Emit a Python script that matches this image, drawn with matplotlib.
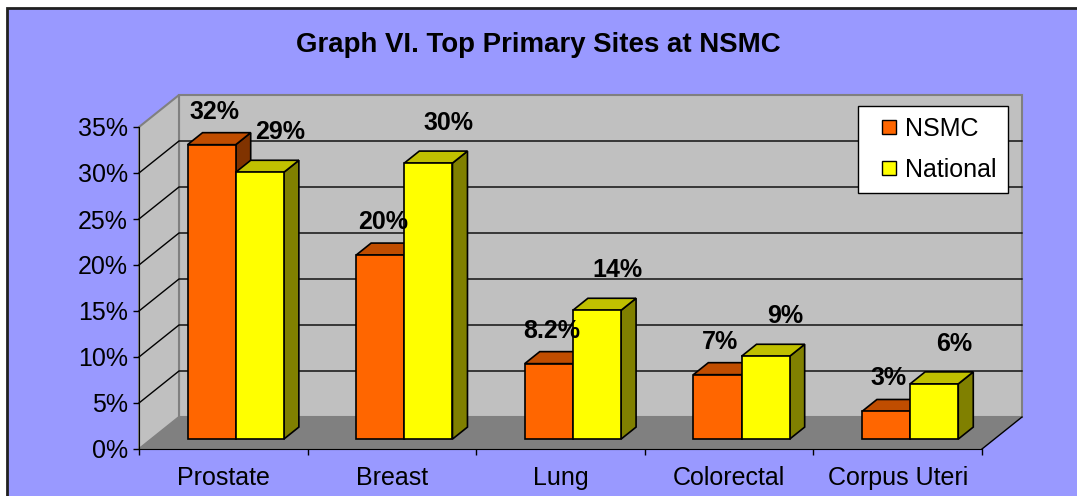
import numpy as np
import matplotlib
matplotlib.use("Agg")
import matplotlib.pyplot as plt
from matplotlib.patches import Polygon, Rectangle, Patch
from matplotlib.legend_handler import HandlerPatch
from matplotlib.ticker import FuncFormatter

plt.rcParams['font.family'] = ['Liberation Sans', 'DejaVu Sans']

# ---- data ----
categories = ['Prostate', 'Breast', 'Lung', 'Colorectal', 'Corpus Uteri']
series_names = ['NSMC', 'National']
nsmc = [32, 20, 8.2, 7, 3]
national = [29, 30, 14, 9, 6]
nsmc_labels = ['32%', '20%', '8.2%', '7%', '3%']
national_labels = ['29%', '30%', '14%', '9%', '6%']
yticks = [0, 5, 10, 15, 20, 25, 30, 35]

# ---- style ----
W, H = 1077, 496
bg = '#9999FF'
wall = '#C0C0C0'
floor = '#808080'
front_cols = ['#FF6600', '#FFFF00']
top_cols = ['#C04D00', '#C0C000']
side_cols = ['#803300', '#808000']

fig = plt.figure(figsize=(W / 100, H / 100), dpi=100)
fig.patch.set_facecolor('white')

# chart area with border (runs off right / bottom like the original)
fig.patches.append(Rectangle((7 / W, -0.1), 1.2, 1 - 8 / H + 0.1,
                             transform=fig.transFigure, facecolor=bg,
                             edgecolor='#202020', lw=2, zorder=-5))

# front plane of the 3d box
x0, x1, y0, y1 = 139, 982, 449, 127
ax = fig.add_axes([x0 / W, 1 - y0 / H, (x1 - x0) / W, (y0 - y1) / H])
ax.set_xlim(0, len(categories))
ax.set_ylim(0, 35)
ax.set_facecolor('none')

# depth offset (40 px right, 32 px up) in data units
DX = 40 / ((x1 - x0) / len(categories))
DY = 32 / ((y0 - y1) / 35)


def proj(x, y, d):
    return (x + d * DX, y + d * DY)


def face(pts, **kw):
    p = Polygon(pts, closed=True, clip_on=False, **kw)
    ax.add_patch(p)
    return p


n = len(categories)
# walls and floor
face([proj(0, 0, 1), proj(n, 0, 1), proj(n, 35, 1), proj(0, 35, 1)],
     facecolor=wall, edgecolor='#808080', lw=1.5, zorder=1)
face([proj(0, 0, 0), proj(0, 0, 1), proj(0, 35, 1), proj(0, 35, 0)],
     facecolor=wall, edgecolor='#808080', lw=1.5, zorder=1)
face([proj(0, 0, 0), proj(n, 0, 0), proj(n, 0, 1), proj(0, 0, 1)],
     facecolor=floor, edgecolor='none', zorder=1.5)
# right floor edge
px, py = zip(proj(n, 0, 0), proj(n, 0, 1))
ax.plot(px, py, color='black', lw=1, clip_on=False, zorder=1.6)

# gridlines
for v in yticks[1:-1]:
    a, b, c = proj(0, v, 0), proj(0, v, 1), proj(n, v, 1)
    ax.plot([a[0], b[0], c[0]], [a[1], b[1], c[1]], color='black', lw=1,
            clip_on=False, zorder=2)

# bars
bw = 1 / 3.5
d0, d1 = 0.31, 0.685
z = 3
for i in range(n):
    for s, vals in enumerate([nsmc, national]):
        v = vals[i]
        xl = i + 0.5 - bw + s * bw
        xr = xl + bw
        face([proj(xr, 0, d0), proj(xr, 0, d1), proj(xr, v, d1), proj(xr, v, d0)],
             facecolor=side_cols[s], edgecolor='black', lw=1.2, zorder=z)
        face([proj(xl, v, d0), proj(xr, v, d0), proj(xr, v, d1), proj(xl, v, d1)],
             facecolor=top_cols[s], edgecolor='black', lw=1.2, zorder=z)
        face([proj(xl, 0, d0), proj(xr, 0, d0), proj(xr, v, d0), proj(xl, v, d0)],
             facecolor=front_cols[s], edgecolor='black', lw=1.2, zorder=z + 0.5)
        z += 1

# data labels
for i in range(n):
    for s, (vals, labs) in enumerate([(nsmc, nsmc_labels), (national, national_labels)]):
        xc = i + 0.5 - bw / 2 + s * bw
        off = (3, 33) if s == 0 else (20, 40)
        ax.annotate(labs[i], xy=proj(xc, vals[i], d0), xytext=off,
                    textcoords='offset pixels', ha='center', va='center',
                    fontsize=18, fontweight='bold', annotation_clip=False,
                    zorder=50)

# axes
for sp in ['top', 'right']:
    ax.spines[sp].set_visible(False)
ax.spines['left'].set_color('black')
ax.spines['bottom'].set_color('black')
ax.spines['left'].set_zorder(2.5)
ax.spines['bottom'].set_zorder(2.5)
ax.set_yticks(yticks)
ax.yaxis.set_major_formatter(FuncFormatter(lambda v, p: f'{int(v)}%'))
ax.tick_params(axis='y', length=4.3, width=1, pad=3.6, labelsize=18)
ax.set_xticks(np.arange(n) + 0.5)
ax.set_xticklabels(categories)
ax.set_xticks(np.arange(n + 1), minor=True)
ax.tick_params(axis='x', which='major', length=0, pad=12, labelsize=18)
ax.tick_params(axis='x', which='minor', length=4.3, width=1)


# legend: small square keys placed at the right end of the handle box
def square_key(legend, orig_handle, xdescent, ydescent, width, height, fontsize):
    s = 14 * 0.72
    return Rectangle((-xdescent + width - s, -ydescent + (height - s) / 2), s, s)


handles = [Patch(facecolor=front_cols[k], edgecolor='black', lw=1) for k in range(2)]
leg = fig.legend(handles, series_names, loc='upper left',
                 bbox_to_anchor=(858 / W, 1 - 106 / H), fontsize=18,
                 frameon=True, fancybox=False, framealpha=1, edgecolor='black',
                 handlelength=1.08, handleheight=0.56, handletextpad=0.36,
                 borderpad=0.44, labelspacing=0.67, borderaxespad=0,
                 handler_map={Patch: HandlerPatch(patch_func=square_key)})
leg.get_frame().set_linewidth(1)

fig.text(538.5 / W, 1 - 51.7 / H, 'Graph VI. Top Primary Sites at NSMC',
         ha='center', va='baseline', fontsize=19.9, fontweight='bold')

fig.savefig('out.png', dpi=100, facecolor=fig.get_facecolor())
